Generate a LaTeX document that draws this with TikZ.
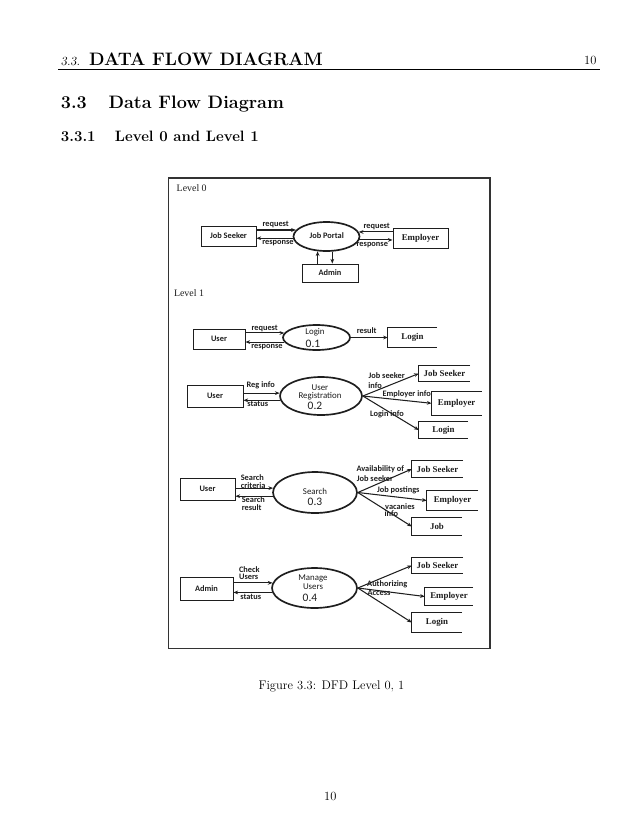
\documentclass[tikz,border=0pt]{standalone}
\usepackage{fontspec}
\newfontfamily\dsans{Carlito}
\newfontfamily\dserif{Liberation Serif}
\usetikzlibrary{shapes.geometric,arrows.meta}
\definecolor{ink}{HTML}{1E1E1E}
\begin{document}
\begin{tikzpicture}[x=0.959248pt,y=-0.959248pt,
  sz/.style 2 args={minimum width=#1*0.959248pt, minimum height=#2*0.959248pt},
  lbl/.style={font=\dsans\bfseries\fontsize{8}{9}\selectfont, inner sep=0pt, text=ink},
  ptxt/.style={font=\dsans\fontsize{8.5}{9}\selectfont, inner sep=0pt, text=ink},
  pnum/.style={font=\dsans\fontsize{11}{12}\selectfont, inner sep=0pt, text=ink},
  lvl/.style={font=\dserif\fontsize{9.5}{10}\selectfont, inner sep=0pt, text=ink},
  boxs/.style={draw=ink, line width=0.9pt, inner sep=0pt, font=\dsans\bfseries\fontsize{8}{9}\selectfont, text=ink},
  boxserif/.style={boxs, font=\dserif\bfseries\fontsize{8.5}{9}\selectfont},
  store/.style={inner sep=0pt, font=\dserif\bfseries\fontsize{8.5}{9}\selectfont, text=ink},
  storeline/.style={draw=ink, line width=0.9pt},
  proc/.style={ellipse, draw=ink, line width=1.6pt, inner sep=0pt},
  arr/.style={draw=ink, line width=1pt, -{Stealth[length=4.5pt,width=3.6pt]}},
  frm/.style={draw=black!80, line width=1.3pt, inner sep=0pt},
  pagetxt/.style={inner sep=0pt, text=black}
]
\newcommand\storelines[1]{\draw[storeline] (#1.north east) -- (#1.north west) -- (#1.south west) -- (#1.south east);}
\fill[white] (0,0) rectangle (638,826);
\useasboundingbox (0,0) rectangle (638,826);

% ---------- page text ----------
\node[pagetxt, anchor=base west, font=\fontsize{12}{14}\selectfont\slshape] (hsec) at (60.7,65) {3.3.};
\node[pagetxt, anchor=base west, font=\LARGE\bfseries] (htitle) at (89,65) {DATA FLOW DIAGRAM};
\node[pagetxt, anchor=base east, font=\fontsize{12}{14}\selectfont] (hpage) at (596.7,64.5) {10};
\coordinate (rulel) at (58.3,69.3);
\coordinate (ruler) at (600,69.3);
\draw[line width=0.6pt] (rulel) -- (ruler);
\node[pagetxt, anchor=base west, font=\LARGE\bfseries] (sec) at (60.7,108.3) {3.3\hskip 20.8pt Data Flow Diagram};
\node[pagetxt, anchor=base west, font=\Large\bfseries] (subsec) at (60.7,141.7) {3.3.1\hskip 18.5pt Level 0 and Level 1};
\node[pagetxt, anchor=base west, font=\fontsize{12}{14}\selectfont] (cap) at (258.3,689.3) {Figure 3.3: DFD Level 0, 1};
\node[pagetxt, anchor=base, font=\fontsize{12}{14}\selectfont] (pnumber) at (330.3,800.7) {10};

% ---------- frame ----------
\node[frm, sz={321.5}{470.5}] (frame) at (329.25,413.25) {};

% ---------- Level 0 ----------
\node[lvl] (lv0) at (191.7,188) {Level 0};
\node[boxs, sz={55}{20}] (js0) at (228.5,236) {Job Seeker};
\node[proc, sz={66}{29}] (portal) at (326.5,236.5) {};
\node[lbl] (tportal) at (326.7,235.5) {Job Portal};
\node[boxserif, sz={55}{20}] (emp0) at (420.5,238) {Employer};
\node[boxs, sz={56}{18}] (adm0) at (330,273) {Admin};
\draw[arr] (js0.east |- portal.168) -- (portal.168);
\draw[arr] (portal.183) -- (js0.east |- portal.183);
\draw[arr] (emp0.west |- portal.8) -- (portal.8);
\draw[arr] (portal.-6) -- (emp0.west |- portal.-6);
\draw[arr] (adm0.north -| portal.239) -- (portal.239);
\draw[arr] (portal.291) -- (adm0.north -| portal.291);
\node[lbl] (l0a) at (275.7,225) {request};
\node[lbl] (l0b) at (278,243.3) {response};
\node[lbl] (l0c) at (376.7,226.7) {request};
\node[lbl] (l0d) at (372.3,245) {response};

% ---------- Level 1 ----------
\node[lvl] (lv1) at (189,293) {Level 1};

% row 1: Login
\node[boxs, sz={52}{20}] (u1) at (219,339) {User};
\node[proc, sz={67}{25}] (p1) at (316.5,337.5) {};
\node[ptxt] (p1a) at (315,332.5) {Login};
\node[pnum] (p1b) at (313,343.5) {0.1};
\node[store, sz={49}{19}] (s1) at (412.5,337.5) {Login};
\storelines{s1}
\draw[arr] (u1.east |- p1.172) -- (p1.172);
\draw[arr] (p1.188) -- (u1.east |- p1.188);
\draw[arr] (p1.east) -- (s1.west |- p1.east);
\node[lbl] (l1a) at (264.7,328.3) {request};
\node[lbl] (l1b) at (267,346.7) {response};
\node[lbl] (l1c) at (366.7,331) {result};

% row 2: User Registration
\node[boxs, sz={56}{22}] (u2) at (215,396) {User};
\node[proc, sz={82}{38}] (p2) at (321,396) {};
\node[ptxt] (p2a) at (320,387.5) {User};
\node[ptxt] (p2b) at (320,396) {Registration};
\node[pnum] (p2c) at (315,406) {0.2};
\node[store, sz={51}{15}] (s2a) at (444.5,373.5) {Job Seeker};
\node[store, sz={50}{23}] (s2b) at (456.7,403.3) {Employer};
\node[store, sz={49}{17}] (s2c) at (443.5,430) {Login};
\storelines{s2a}
\storelines{s2b}
\storelines{s2c}
\draw[arr] (u2.east |- p2.176) -- (p2.176);
\draw[arr] (p2.186) -- (u2.east |- p2.186);
\draw[arr] (p2.east) -- (s2a.west);
\draw[arr] (p2.east) -- (s2b.west);
\draw[arr] (p2.east) -- (s2c.west);
\node[lbl] (l2a) at (260.7,385) {Reg info};
\node[lbl] (l2b) at (257.7,404) {status};
\node[lbl] (l2c) at (386.7,376) {Job seeker};
\node[lbl] (l2d) at (375,385.3) {info};
\node[lbl] (l2e) at (406.7,394.7) {Employer info};
\node[lbl] (l2f) at (387,414.3) {Login info};

% row 3: Search
\node[boxs, sz={55}{22}] (u3) at (207.5,489) {User};
\node[proc, sz={84}{41}] (p3) at (315,492.5) {};
\node[ptxt] (p3a) at (315,491) {Search};
\node[pnum] (p3b) at (315,502) {0.3};
\node[store, sz={51}{16}] (s3a) at (437.5,469) {Job Seeker};
\node[store, sz={51}{19}] (s3b) at (452.5,500.5) {Employer};
\node[store, sz={50}{17}] (s3c) at (437,526.5) {Job};
\storelines{s3a}
\storelines{s3b}
\storelines{s3c}
\draw[arr] (u3.east |- p3.174) -- (p3.174);
\draw[arr] (p3.185) -- (u3.east |- p3.185);
\draw[arr] (p3.east) -- (s3a.west);
\draw[arr] (p3.east) -- (s3b.west);
\draw[arr] (p3.east) -- (s3c.west);
\node[lbl] (l3a) at (252.3,477.3) {Search};
\node[lbl] (l3b) at (253.3,485.7) {criteria};
\node[lbl] (l3c) at (253.3,499.7) {Search};
\node[lbl] (l3d) at (251.7,508) {result};
\node[lbl] (l3e) at (380.3,469) {Availability of};
\node[lbl] (l3f) at (375,478.7) {Job seeker};
\node[lbl] (l3g) at (398.3,490) {Job postings};
\node[lbl] (l3h) at (400,506.7) {vacanies};
\node[lbl] (l3i) at (391.3,513.7) {info};

% row 4: Manage Users
\node[boxs, sz={53}{23}] (a4) at (206.5,588.5) {Admin};
\node[proc, sz={85}{40}] (p4) at (314.5,588) {};
\node[ptxt] (p4a) at (313,578.5) {Manage};
\node[ptxt] (p4b) at (313,586.5) {Users};
\node[pnum] (p4c) at (310,597.5) {0.4};
\node[store, sz={51}{15}] (s4a) at (437.5,565.5) {Job Seeker};
\node[store, sz={48}{17}] (s4b) at (449,596.5) {Employer};
\node[store, sz={50}{19}] (s4c) at (437,622.5) {Login};
\storelines{s4a}
\storelines{s4b}
\storelines{s4c}
\draw[arr] (a4.east |- p4.173) -- (p4.173);
\draw[arr] (p4.186) -- (a4.east |- p4.186);
\draw[arr] (p4.east) -- (s4a.west);
\draw[arr] (p4.east) -- (s4b.west);
\draw[arr] (p4.east) -- (s4c.west);
\node[lbl] (l4a) at (249.3,569.3) {Check};
\node[lbl] (l4b) at (248.7,577) {Users};
\node[lbl] (l4c) at (250.7,597) {status};
\node[lbl] (l4d) at (387.3,584) {Authorizing};
\node[lbl] (l4e) at (379,592.7) {Access};
\end{tikzpicture}
\end{document}
